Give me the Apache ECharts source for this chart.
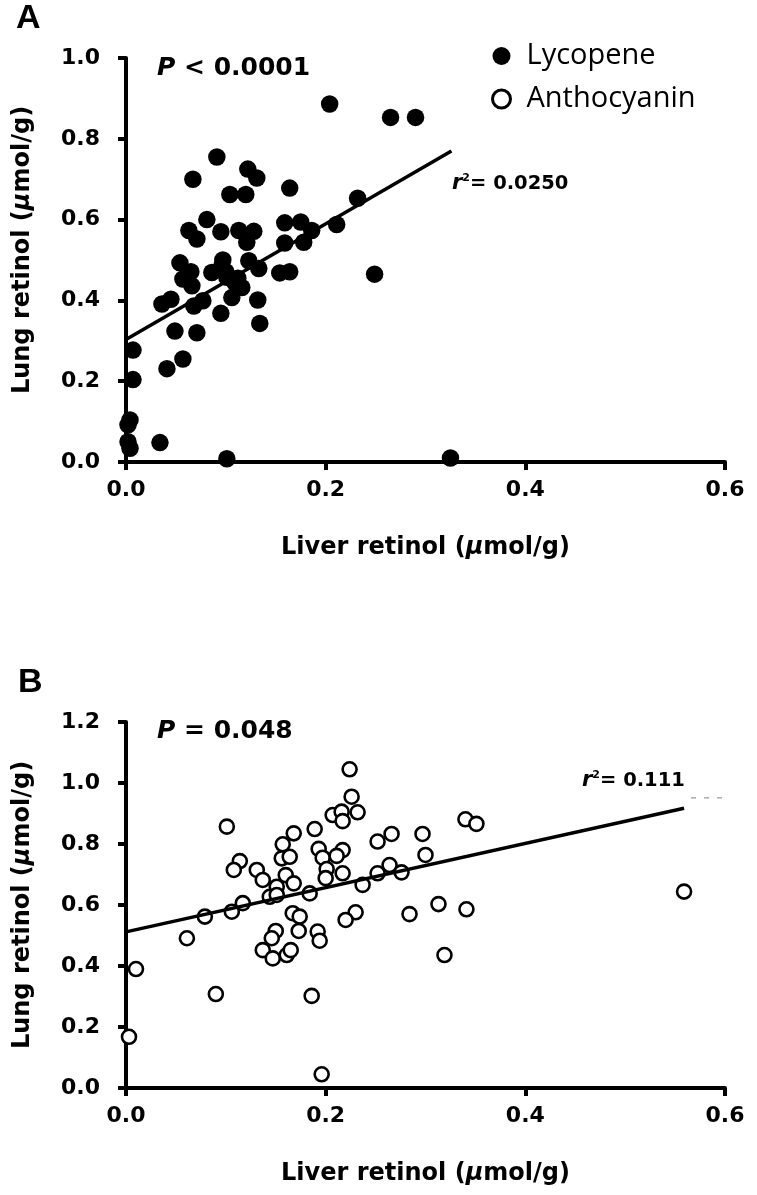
<!DOCTYPE html>
<html><head><meta charset="utf-8">
<script src="https://cdn.jsdelivr.net/npm/echarts@6/dist/echarts.min.js"></script>
<style>html,body{margin:0;padding:0;background:#fff}#c{width:757px;height:1195px}</style>
</head><body><div id="c"></div>
<script>
// ---- Data ----
const lycopeneLiver = [0.204,0.265,0.290,0.091,0.067,0.122,0.131,0.164,0.104,0.120,0.232,0.081,0.063,0.071,0.095,0.113,0.128,0.121,0.159,0.175,0.186,0.211,0.159,0.178,0.054,0.065,0.097,0.123,0.133,0.086,0.100,0.154,0.164,0.249,0.057,0.066,0.101,0.109,0.116,0.106,0.132,0.134,0.095,0.036,0.045,0.068,0.077,0.049,0.071,0.041,0.057,0.007,0.007,0.004,0.002,0.002,0.004,0.034,0.101,0.325,0.096,0.112];
const lycopeneLung  = [0.886,0.853,0.853,0.755,0.700,0.725,0.703,0.678,0.662,0.662,0.653,0.600,0.573,0.552,0.570,0.573,0.571,0.544,0.592,0.594,0.573,0.588,0.542,0.544,0.493,0.471,0.500,0.498,0.479,0.469,0.471,0.468,0.471,0.465,0.453,0.436,0.457,0.444,0.432,0.407,0.401,0.343,0.368,0.391,0.403,0.386,0.399,0.324,0.320,0.231,0.255,0.277,0.204,0.104,0.092,0.050,0.034,0.048,0.008,0.010,0.486,0.455];
const anthoLiver = [0.224,0.226,0.232,0.207,0.216,0.217,0.101,0.168,0.189,0.157,0.193,0.217,0.252,0.266,0.297,0.300,0.156,0.164,0.197,0.211,0.114,0.108,0.131,0.137,0.160,0.168,0.201,0.200,0.217,0.252,0.264,0.276,0.237,0.184,0.151,0.144,0.151,0.117,0.106,0.079,0.167,0.174,0.230,0.220,0.284,0.313,0.061,0.150,0.173,0.192,0.194,0.010,0.003,0.090,0.186,0.196,0.137,0.147,0.161,0.165,0.146,0.340,0.351,0.559,0.341,0.319];
const anthoLung  = [1.045,0.955,0.904,0.895,0.906,0.875,0.857,0.835,0.849,0.799,0.784,0.780,0.808,0.833,0.833,0.764,0.753,0.758,0.755,0.761,0.744,0.715,0.715,0.682,0.698,0.671,0.718,0.688,0.704,0.704,0.731,0.707,0.666,0.638,0.660,0.627,0.633,0.606,0.578,0.562,0.573,0.562,0.576,0.551,0.570,0.603,0.491,0.515,0.515,0.513,0.483,0.390,0.168,0.308,0.302,0.045,0.452,0.425,0.436,0.452,0.491,0.881,0.866,0.644,0.586,0.436];
const fitAx = [0, 0.326], fitAy = [0.303, 0.770];
const fitBx = [0, 0.559], fitBy = [0.512, 0.917];
const dashBx = [0.566, 0.600], dashBy = [0.951, 0.951];
const xTicks = [0.0, 0.2, 0.4, 0.6];
const yTicksA = [0.0, 0.2, 0.4, 0.6, 0.8, 1.0];
const yTicksB = [0.0, 0.2, 0.4, 0.6, 0.8, 1.0, 1.2];
const panelLabels = ['A', 'B'];
const pTexts = ['< 0.0001', '= 0.048'];
const r2Texts = ['0.0250', '0.111'];
const seriesNames = ['Lycopene', 'Anthocyanin'];
const xTitle = 'Liver retinol ({i|\u03bc}mol/g)';
const yTitle = 'Lung retinol ({i|\u03bc}mol/g)';

// ---- Build ----
const zip = (a, b) => a.map((v, i) => [v, b[i]]);
const BOLD = 'DejaVu Sans';
const axisFont = {fontFamily: BOLD, fontWeight: 'bold', fontSize: 22, color: '#000'};
const titleRich = {i: {fontFamily: BOLD, fontWeight: 'bold', fontStyle: 'italic', fontSize: 24, color: '#000'}};

function xAxisCfg(grid) {
  return {
    gridIndex: grid, type: 'value', min: xTicks[0], max: xTicks[xTicks.length - 1],
    interval: xTicks[1] - xTicks[0],
    axisLine: {show: true, lineStyle: {color: '#000', width: 4}},
    axisTick: {show: true, length: 8, lineStyle: {color: '#000', width: 4}},
    splitLine: {show: false},
    axisLabel: Object.assign({margin: 17, formatter: v => v.toFixed(1)}, axisFont),
    name: xTitle, nameLocation: 'middle', nameGap: 74,
    nameTextStyle: {fontFamily: BOLD, fontWeight: 'bold', fontSize: 24, color: '#000', rich: titleRich}
  };
}
function yAxisCfg(grid, ticks, pad) {
  return {
    gridIndex: grid, type: 'value', min: ticks[0], max: ticks[ticks.length - 1],
    interval: ticks[1] - ticks[0],
    axisLine: {show: true, lineStyle: {color: '#000', width: 4}},
    axisTick: {show: true, length: 8, lineStyle: {color: '#000', width: 4}},
    splitLine: {show: false},
    axisLabel: Object.assign({margin: 26, formatter: v => v.toFixed(1)}, axisFont),
    name: yTitle, nameLocation: 'middle', nameGap: 91, nameRotate: 90,
    nameTextStyle: {fontFamily: BOLD, fontWeight: 'bold', fontSize: 24, color: '#000', rich: titleRich, padding: pad}
  };
}
const pRich = {i: {fontFamily: BOLD, fontWeight: 'bold', fontStyle: 'italic', fontSize: 25, color: '#000'}};
const rRich = {
  r: {fontFamily: BOLD, fontWeight: 'bold', fontStyle: 'italic', fontSize: 21, color: '#000'},
  s: {fontFamily: BOLD, fontWeight: 'bold', fontSize: 11, color: '#000', padding: [0, 0, 10, 0]},
  n: {fontFamily: BOLD, fontWeight: 'bold', fontSize: 19.5, color: '#000'}
};

const option = {
  backgroundColor: '#fff',
  animation: false,
  title: [
    {text: panelLabels[0], left: 16, top: 2, padding: 0, textStyle: {fontFamily: 'Liberation Sans', fontWeight: 'bold', fontSize: 34, color: '#000'}},
    {text: panelLabels[1], left: 18, top: 666, padding: 0, textStyle: {fontFamily: 'Liberation Sans', fontWeight: 'bold', fontSize: 34, color: '#000'}},
    {text: '{i|P} ' + pTexts[0], left: 157, top: 56, padding: 0, textStyle: {fontFamily: BOLD, fontWeight: 'bold', fontSize: 25, color: '#000', rich: pRich}},
    {text: '{i|P} ' + pTexts[1], left: 157, top: 719, padding: 0, textStyle: {fontFamily: BOLD, fontWeight: 'bold', fontSize: 25, color: '#000', rich: pRich}},
    {text: '{r|r}{s|2}{n|= ' + r2Texts[0] + '}', left: 452, top: 173, padding: 0, textStyle: {rich: rRich}},
    {text: '{r|r}{s|2}{n|= ' + r2Texts[1] + '}', left: 582, top: 770, padding: 0, textStyle: {rich: rRich}}
  ],
  legend: {
    orient: 'vertical', left: 486, top: 36, itemWidth: 40, itemHeight: 18, itemGap: 13,
    selectedMode: false, icon: 'circle',
    textStyle: {fontFamily: 'Open Sans', fontSize: 29, color: '#000', lineHeight: 30},
    data: [
      {name: seriesNames[0], itemStyle: {color: '#000', borderWidth: 0}},
      {name: seriesNames[1], itemStyle: {color: '#fff', borderColor: '#000', borderWidth: 3}}
    ]
  },
  grid: [
    {left: 126, top: 58, width: 599, height: 404},
    {left: 126, top: 722, width: 599, height: 366}
  ],
  xAxis: [xAxisCfg(0), xAxisCfg(1)],
  yAxis: [yAxisCfg(0, yTicksA, [0, 0, 0, 20]), yAxisCfg(1, yTicksB, [0, 0, 0, 0])],
  series: [
    {name: seriesNames[0], type: 'scatter', xAxisIndex: 0, yAxisIndex: 0, symbol: 'circle', symbolSize: 17.5,
     itemStyle: {color: '#000', opacity: 1}, data: zip(lycopeneLiver, lycopeneLung), z: 2},
    {name: 'fitA', type: 'line', xAxisIndex: 0, yAxisIndex: 0, showSymbol: false, symbol: 'none',
     lineStyle: {color: '#000', width: 3.5}, data: zip(fitAx, fitAy), z: 3},
    {name: seriesNames[1], type: 'scatter', xAxisIndex: 1, yAxisIndex: 1, symbol: 'circle', symbolSize: 14,
     itemStyle: {color: '#fff', borderColor: '#000', borderWidth: 2.6, opacity: 1}, data: zip(anthoLiver, anthoLung), z: 2},
    {name: 'fitB', type: 'line', xAxisIndex: 1, yAxisIndex: 1, showSymbol: false, symbol: 'none',
     lineStyle: {color: '#000', width: 3.5}, data: zip(fitBx, fitBy), z: 3},
    {name: 'dashB', type: 'line', xAxisIndex: 1, yAxisIndex: 1, showSymbol: false, symbol: 'none',
     lineStyle: {color: '#999', width: 1.2, type: [5, 8]}, data: zip(dashBx, dashBy), z: 1}
  ]
};
const chart = echarts.init(document.getElementById('c'), null, {renderer: 'canvas'});
chart.setOption(option);
</script></body></html>
